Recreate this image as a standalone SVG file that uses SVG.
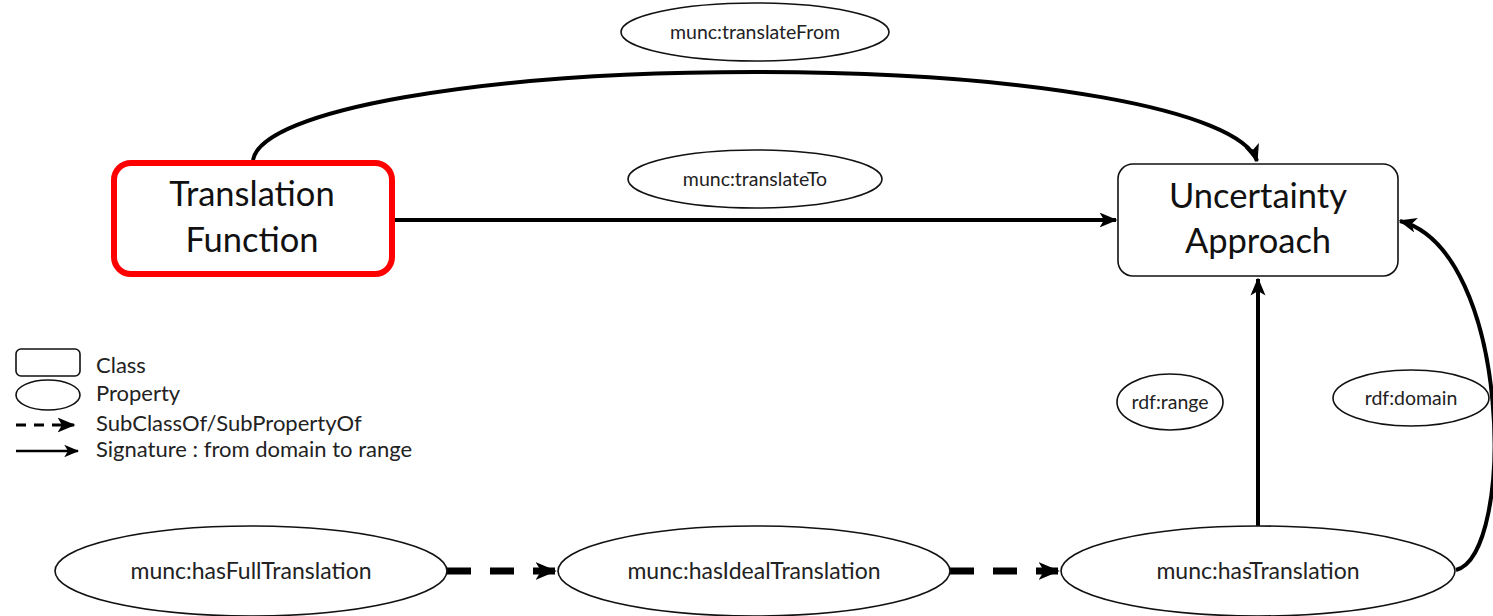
<svg xmlns="http://www.w3.org/2000/svg" width="1493" height="616" viewBox="0 0 1493 616">
<style>
.cls{fill:#fff;stroke:#111;stroke-width:1.6}
.prop{fill:#fff;stroke:#111;stroke-width:1.6}
.big{font-family:Lato,"Liberation Sans",sans-serif;font-size:34.5px;fill:#111;text-anchor:middle}
.sm{font-family:Lato,"Liberation Sans",sans-serif;font-size:19.5px;fill:#222;text-anchor:middle}
.md{font-family:Lato,"Liberation Sans",sans-serif;font-size:23px;fill:#222;text-anchor:middle}
.leg{font-family:Lato,"Liberation Sans",sans-serif;font-size:22px;fill:#222}
.edge{fill:none;stroke:#000;stroke-width:4}
.dash{fill:none;stroke:#000;stroke-width:7;stroke-dasharray:24 19}
</style>
<defs>
<marker id="ah" viewBox="0 0 12 10" refX="11" refY="5" markerWidth="4.5" markerHeight="3.8" orient="auto" markerUnits="strokeWidth">
<path d="M0,0 L12,5 L0,10 L3,5 z" fill="#000"/>
</marker>
<marker id="ahd" viewBox="0 0 12 10" refX="11" refY="5" markerWidth="3" markerHeight="3.6" orient="auto" markerUnits="strokeWidth">
<path d="M0,0 L12,5 L0,10 L3,5 z" fill="#000"/>
</marker>
<marker id="ahl" viewBox="0 0 12 10" refX="11" refY="5" markerWidth="6" markerHeight="5" orient="auto" markerUnits="strokeWidth">
<path d="M0,0 L12,5 L0,10 L3,5 z" fill="#000"/>
</marker>
</defs>
<g id="connectors">
<path class="edge" d="M253,160 C262,110 480,72 755,72 C1030,72 1240,110 1257,161" marker-end="url(#ah)"/>
<path class="edge" d="M395,220 L1116,220" marker-end="url(#ah)"/>
<path class="edge" d="M1258,528 L1258,279" marker-end="url(#ah)"/>
<path class="edge" d="M1456,570 C1516,555 1512,250 1400,221" marker-end="url(#ah)"/>
<path class="dash" d="M447,571 L555,571" marker-end="url(#ahd)"/>
<path class="dash" d="M950,571 L1058,571" marker-end="url(#ahd)"/>
</g>
<g id="translation-function">
<rect x="114" y="163" width="278" height="111" rx="17" fill="#fff" stroke="#f00" stroke-width="6"/>
<text class="big" x="252" y="206">Translation</text>
<text class="big" x="252" y="252">Function</text>
</g>
<g id="uncertainty-approach">
<rect class="cls" x="1118" y="164" width="280" height="112" rx="15"/>
<text class="big" x="1258" y="208">Uncertainty</text>
<text class="big" x="1258" y="253">Approach</text>
</g>
<g id="translateFrom">
<ellipse class="prop" cx="755" cy="32" rx="134" ry="29"/>
<text class="sm" x="755" y="39">munc:translateFrom</text>
</g>
<g id="translateTo">
<ellipse class="prop" cx="755" cy="179" rx="127" ry="29"/>
<text class="sm" x="755" y="186">munc:translateTo</text>
</g>
<g id="rdf-range">
<ellipse class="prop" cx="1170" cy="402" rx="53" ry="28"/>
<text class="sm" x="1170" y="409">rdf:range</text>
</g>
<g id="rdf-domain">
<ellipse class="prop" cx="1411" cy="398" rx="78" ry="28"/>
<text class="sm" x="1411" y="405">rdf:domain</text>
</g>
<g id="hasFullTranslation">
<ellipse class="prop" cx="251" cy="571" rx="196" ry="45"/>
<text class="md" x="251" y="579">munc:hasFullTranslation</text>
</g>
<g id="hasIdealTranslation">
<ellipse class="prop" cx="754" cy="571" rx="196" ry="45"/>
<text class="md" x="754" y="579">munc:hasIdealTranslation</text>
</g>
<g id="hasTranslation">
<ellipse class="prop" cx="1258" cy="571" rx="197" ry="45"/>
<text class="md" x="1258" y="579">munc:hasTranslation</text>
</g>
<g id="legend">
<rect class="cls" x="16" y="349" width="64" height="27" rx="5"/>
<text class="leg" x="96" y="373">Class</text>
<ellipse class="prop" cx="48" cy="395" rx="32" ry="15"/>
<text class="leg" x="96" y="401">Property</text>
<path d="M16,425 L74,425" fill="none" stroke="#000" stroke-width="3" stroke-dasharray="10 8" marker-end="url(#ahl)"/>
<text class="leg" x="96" y="431">SubClassOf/SubPropertyOf</text>
<path d="M16,451 L78,451" fill="none" stroke="#000" stroke-width="2.5" marker-end="url(#ahl)"/>
<text class="leg" x="96" y="457">Signature : from domain to range</text>
</g>
</svg>
